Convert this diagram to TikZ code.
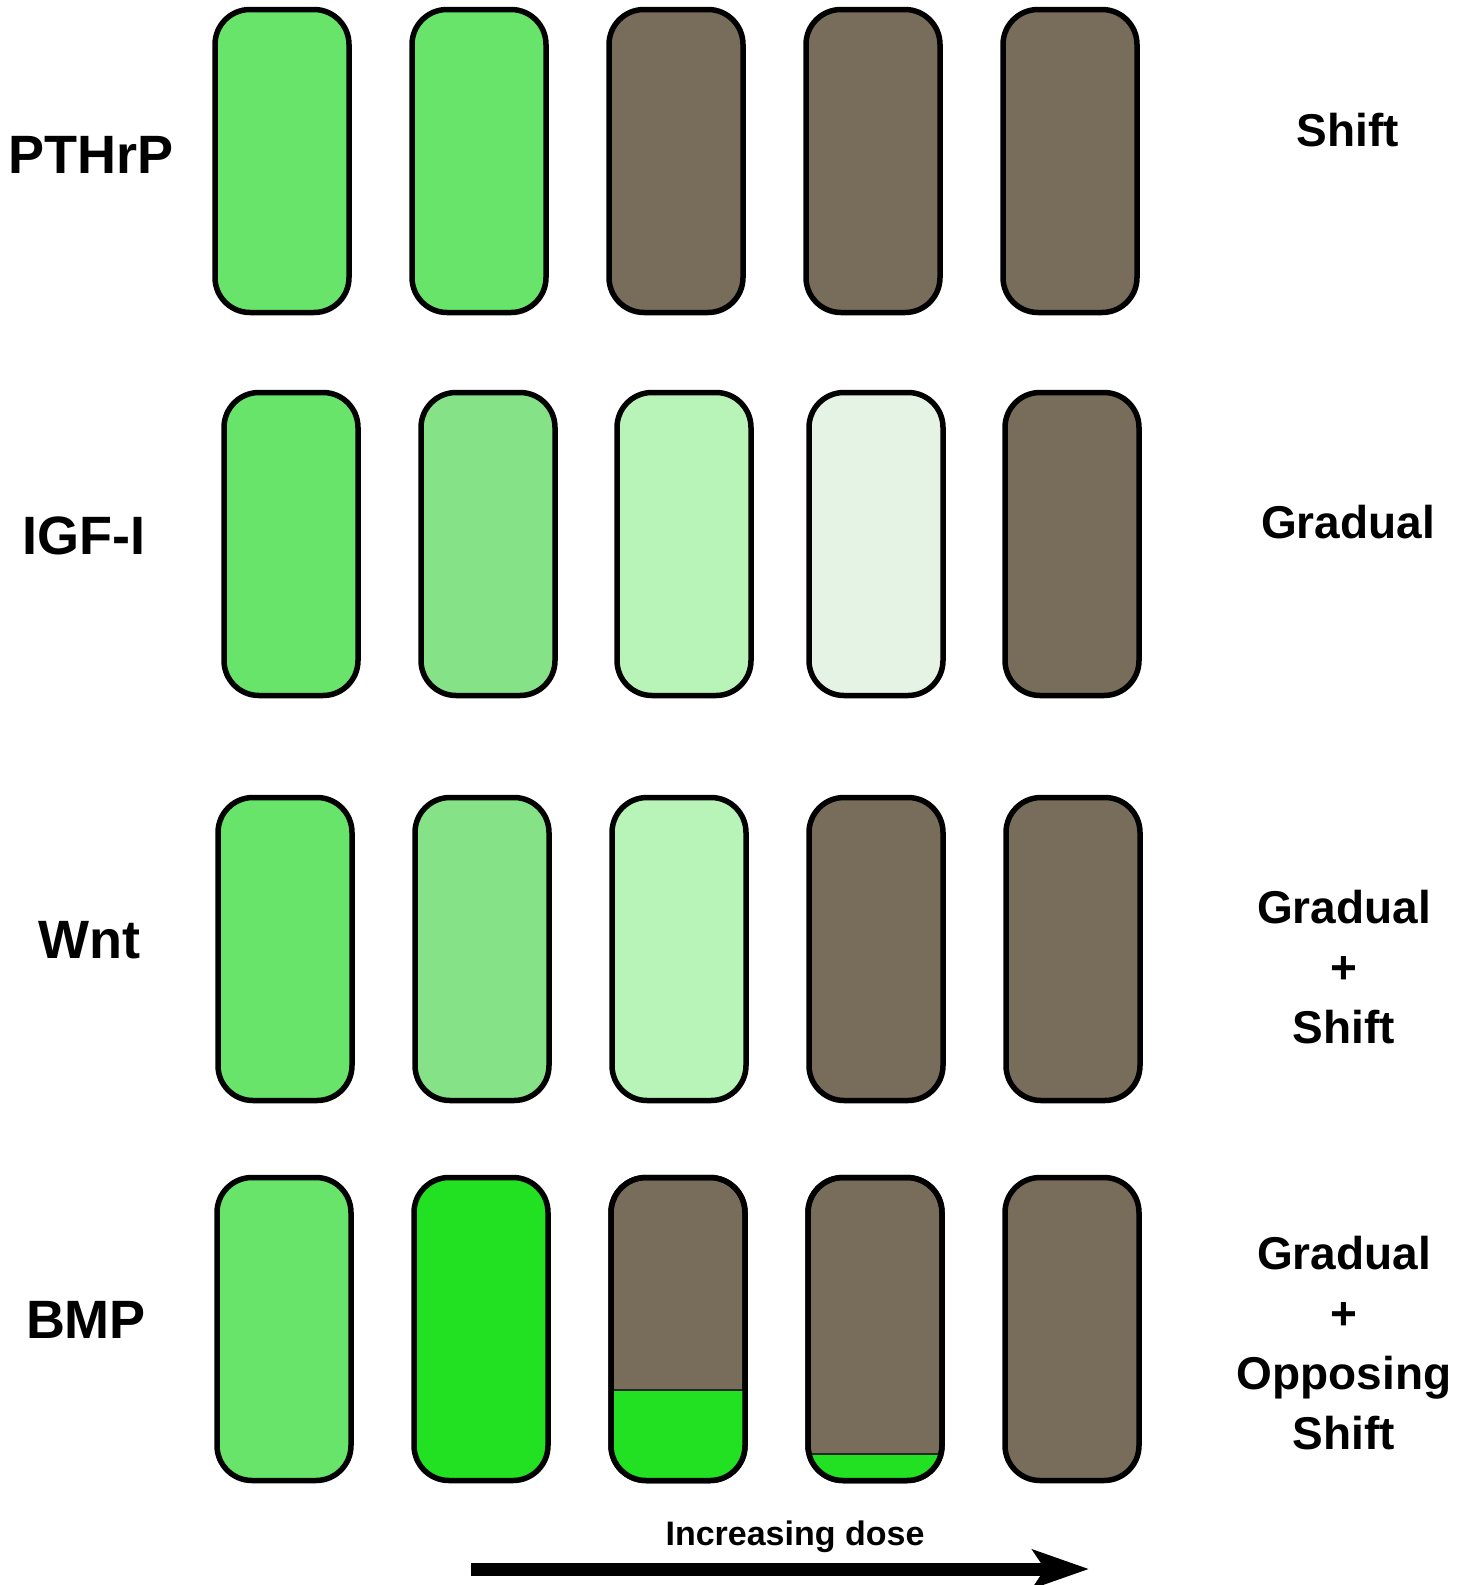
\documentclass[tikz,border=0pt]{standalone}
\usepackage{fontspec}
\setmainfont{Liberation Sans}
\usetikzlibrary{arrows.meta}
\definecolor{grn}{HTML}{68E46A}
\definecolor{grnB}{HTML}{85E286}
\definecolor{grnC}{HTML}{B8F4B8}
\definecolor{grnD}{HTML}{E4F3E4}
\definecolor{grnE}{HTML}{22E022}
\definecolor{brn}{HTML}{786C5A}
\begin{document}
\begin{tikzpicture}[x=1pt,y=-1pt,
  cell/.style={draw=black,line width=5.5pt,rounded corners=35pt,minimum width=134pt,minimum height=303pt,inner sep=0pt,outer sep=0pt},
  gene/.style={font=\fontsize{54}{60}\selectfont\bfseries},
  mode/.style={font=\fontsize{46}{60}\selectfont\bfseries,align=center}]
\useasboundingbox (0,0) rectangle (1471,1585);
% rows of cells, centre x / fill colour
\foreach \x/\c [count=\i] in {282/grn,479/grn,676/brn,873/brn,1070/brn}
  \node[cell,fill=\c] (pthrp\i) at (\x,161) {};
\foreach \x/\c [count=\i] in {291/grn,488/grnB,684/grnC,876/grnD,1072/brn}
  \node[cell,fill=\c] (igf\i) at (\x,544) {};
\foreach \x/\c [count=\i] in {285/grn,482/grnB,679/grnC,876/brn,1073/brn}
  \node[cell,fill=\c] (wnt\i) at (\x,949) {};
\foreach \x/\c [count=\i] in {284/grn,481/grnE,678/brn,875/brn,1072/brn}
  \node[cell,fill=\c] (bmp\i) at (\x,1329) {};
% green bottoms of the BMP cells
\foreach \n/\y in {bmp3/1390,bmp4/1454}{
  \begin{scope}
    \clip[rounded corners=35pt] (\n.south west) rectangle (\n.north east);
    \fill[grnE] (\n.south west) rectangle (\n.east |- 0,\y);
    \draw[line width=1.2pt,black!85] (\n.west |- 0,\y) -- (\n.east |- 0,\y);
  \end{scope}
  \draw[line width=5.5pt,rounded corners=35pt] (\n.south west) rectangle (\n.north east);
}
% labels
\node[gene] (lab-pthrp) at (91,155) {PTHrP};
\node[gene] (lab-igf) at (84,536) {IGF-I};
\node[gene] (lab-wnt) at (89,940) {Wnt};
\node[gene] (lab-bmp) at (86,1320) {BMP};
\node[mode] (mode-pthrp) at (1348,130) {Shift};
\node[mode] (mode-igf) at (1348,522) {Gradual};
\node[mode] (mode-wnt) at (1344,967) {Gradual\\+\\Shift};
\node[mode] (mode-bmp) at (1344,1343) {Gradual\\+\\Opposing\\Shift};
% dose arrow
\coordinate (dose-start) at (471,1569);
\coordinate (dose-end) at (1089,1569);
\draw[line width=13pt,-{Stealth[length=56pt,width=38pt,inset=12pt]}] (dose-start) -- (dose-end);
\node[font=\fontsize{34}{40}\selectfont\bfseries] (dose) at (795,1537) {Increasing dose};
\end{tikzpicture}
\end{document}
